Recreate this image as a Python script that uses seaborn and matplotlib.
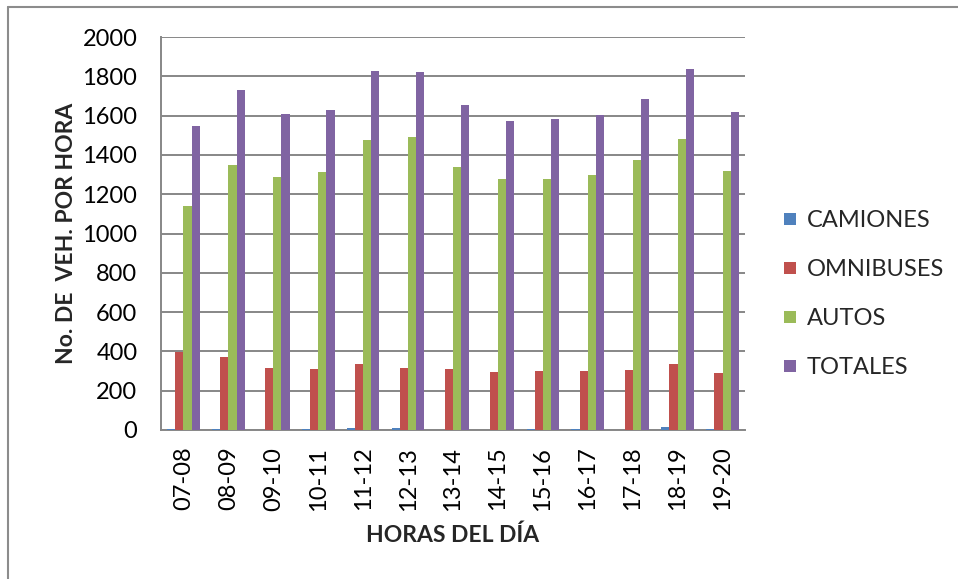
import matplotlib
matplotlib.use("Agg")
import matplotlib.pyplot as plt
from matplotlib.lines import Line2D
import seaborn as sns
import pandas as pd

horas = ["07-08", "08-09", "09-10", "10-11", "11-12", "12-13", "13-14",
         "14-15", "15-16", "16-17", "17-18", "18-19", "19-20"]
camiones = [7, 7, 2, 5, 12, 12, 2, 2, 3, 3, 2, 14, 7]
omnibuses = [396, 372, 314, 312, 338, 318, 309, 294, 298, 301, 305, 338, 289]
autos = [1140, 1349, 1288, 1311, 1476, 1490, 1340, 1276, 1276, 1298, 1372, 1483, 1320]
totales = [1547, 1730, 1607, 1628, 1827, 1822, 1654, 1572, 1581, 1601, 1684, 1836, 1620]
series = ["CAMIONES", "OMNIBUSES", "AUTOS", "TOTALES"]
colores = ["#4F81BD", "#C0504D", "#9BBB59", "#8064A2"]
y_ticks = [0, 200, 400, 600, 800, 1000, 1200, 1400, 1600, 1800, 2000]

df = pd.DataFrame({
    "hora": horas * 4,
    "valor": camiones + omnibuses + autos + totales,
    "tipo": [s for s in series for _ in horas],
})

sns.set_theme(style="white")
plt.rcParams["font.family"] = ["Lato", "DejaVu Sans"]

W, H = 958, 579
fig = plt.figure(figsize=(W / 100, H / 100), dpi=100)
ax = fig.add_axes([161 / W, 1 - 430 / H, (745 - 161) / W, (430 - 37) / H])

sns.barplot(data=df, x="hora", y="valor", hue="tipo", hue_order=series,
            palette=colores, saturation=1, width=4 / 5.5, gap=0,
            linewidth=0, errorbar=None, ax=ax, zorder=3)

grid_c = "#878787"
ax.set_ylim(0, 2000)
ax.set_xlim(-0.5, len(horas) - 0.5)
ax.set_yticks(y_ticks)
ax.yaxis.grid(True, color=grid_c, linewidth=1.4, zorder=0)
ax.set_axisbelow(True)
for s in ["top", "right"]:
    ax.spines[s].set_visible(False)
for s in ["left", "bottom"]:
    ax.spines[s].set_color(grid_c)
    ax.spines[s].set_linewidth(1.4)
ax.tick_params(axis="y", which="major", direction="out", length=6,
               width=1.4, color=grid_c, pad=11, labelsize=17, labelcolor="black")
ax.tick_params(axis="x", which="major", length=0, pad=12, labelsize=17,
               labelcolor="black", rotation=90)

ax.set_xlabel("HORAS DEL DÍA", fontsize=16.5, fontweight="bold", labelpad=10)
ax.set_ylabel("No. DE  VEH. POR HORA", fontsize=16.5, fontweight="bold", labelpad=4)

handles = [Line2D([0], [0], marker="s", linestyle="none", markersize=9,
                  markerfacecolor=c, markeredgewidth=0) for c in colores]
ax.legend(handles, series, loc="center left", bbox_to_anchor=(1.045, 0.346),
          frameon=False, fontsize=17, handlelength=0.8, handletextpad=0.3,
          labelspacing=1.18, borderaxespad=0)

# outer chart frame (left and top edges)
fig.add_artist(Line2D([8 / W, 8 / W], [0, 1 - 7 / H], transform=fig.transFigure,
                      color="#8C8C8C", linewidth=1.5))
fig.add_artist(Line2D([8 / W, 1], [1 - 7 / H, 1 - 7 / H], transform=fig.transFigure,
                      color="#8C8C8C", linewidth=1.5))

fig.savefig("out.png", dpi=100)
